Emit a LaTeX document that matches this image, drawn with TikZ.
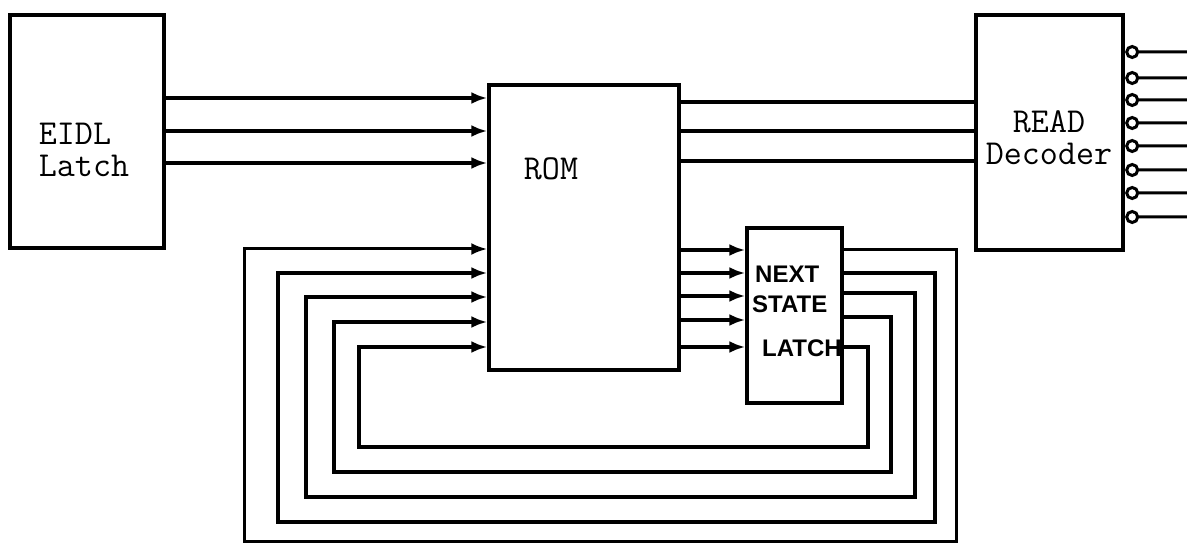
\documentclass[tikz,border=0pt]{standalone}
\usepackage{fontspec}
\setsansfont{Liberation Sans}
\usepackage{tikz}
\usetikzlibrary{arrows.meta,positioning}

\begin{document}
\begin{tikzpicture}[x=1pt,y=-1pt,>={Latex[length=16pt,width=12pt]},
    blk/.style={draw,line width=3.4pt,inner sep=0pt},
    bus/.style={line width=4.6pt},
    txt/.style={font=\ttfamily\fontsize{35}{32}\selectfont,inner sep=0pt},
    hand/.style={font=\sffamily\bfseries\fontsize{24}{26}\selectfont,inner sep=0pt,anchor=base west}]
    \useasboundingbox (0,0) rectangle (1187,545);
    % blocks
    \node[blk,minimum width=154pt,minimum height=233pt] (eidl) at (87,131.5) {};
    \node[blk,minimum width=190pt,minimum height=285pt] (rom) at (584,227.5) {};
    \node[blk,minimum width=95pt,minimum height=175pt] (nsl) at (794.5,315.5) {};
    \node[blk,minimum width=147pt,minimum height=235pt] (dec) at (1049.5,132.5) {};
    % labels
    \node[txt,align=left] (eidltxt) at (84,150) {EIDL\\Latch};
    \node[txt] (romtxt) at (551,168.5) {ROM};
    \node[txt,align=center] (dectxt) at (1049,138) {READ\\Decoder};
    \node[hand] (nsl1) at (755,283) {NEXT};
    \node[hand] (nsl2) at (752,313) {STATE};
    \node[hand] (nsl3) at (762,357) {LATCH};
    % EIDL latch -> ROM
    \foreach \y in {98,131,163}
       \draw[bus,->] (eidl.east |- 0,\y) -- (rom.west |- 0,\y);
    % ROM -> READ decoder
    \foreach \y in {102,131,161}
       \draw[line width=4pt] (rom.east |- 0,\y) -- (dec.west |- 0,\y);
    % ROM -> next state latch
    \foreach \y in {250,273,296,320,347}
       \draw[bus,->] (rom.east |- 0,\y) -- (nsl.west |- 0,\y);
    % next state fed back into ROM
    \draw[line width=3pt,->] (nsl.east |- 0,250) -| (956,541) -| (244,249) -- (rom.west |- 0,249);
    \foreach \ya/\xr/\yb/\xl/\yi in {273/935/522/278/273,293/915/497/306/297,317/891/472/334/322,347/868/447/359/347}
       \draw[bus,->] (nsl.east |- 0,\ya) -| (\xr,\yb) -| (\xl,\yi) -- (rom.west |- 0,\yi);
    % decoder outputs (active low)
    \foreach \y in {52,78,100,123,146,170,193,217}
       \draw[line width=3pt] (dec.east |- 0,\y) ++(7.5,0) circle (5.5pt) ++(5.5,0) -- (1187,\y);
\end{tikzpicture}
\end{document}
